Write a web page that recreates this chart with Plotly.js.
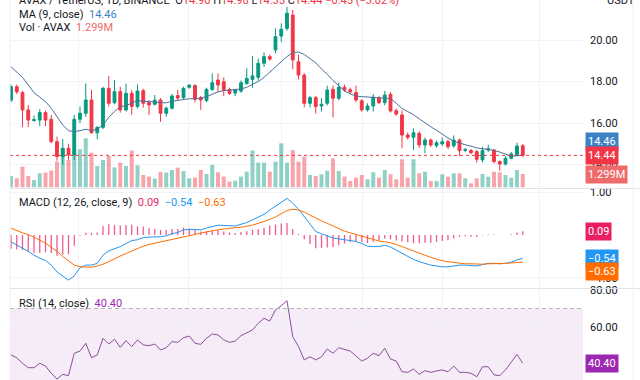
<!DOCTYPE html>
<html><head><meta charset="utf-8">
<script src="https://cdn.plot.ly/plotly-3.0.1.min.js"></script>
<style>html,body{margin:0;padding:0;background:#fff}#chart{width:640px;height:380px}</style>
</head><body><div id="chart"></div>
<script>
const openP = [17.10,17.75,17.46,16.63,16.12,16.14,16.50,16.18,15.10,14.38,
14.78,14.46,16.18,16.47,17.11,15.53,15.79,17.67,16.98,17.51,
16.63,17.43,16.80,17.56,16.98,16.90,17.11,16.47,16.71,17.32,
17.22,17.72,17.80,17.22,17.08,17.62,18.07,17.99,17.62,17.44,
17.54,17.90,18.10,18.20,18.88,19.20,19.52,20.19,20.56,21.20,
18.95,18.31,16.95,17.22,16.82,16.95,17.62,17.19,17.72,17.60,
17.46,17.07,16.63,16.82,17.20,16.98,17.38,16.59,16.39,15.42,
15.31,15.50,14.94,15.18,14.91,14.99,15.10,14.90,15.18,14.68,
14.67,14.62,14.22,14.70,14.70,14.14,14.02,14.30,14.46,14.90];
const highP = [17.85,17.85,17.55,16.87,16.35,16.67,16.60,16.39,15.34,15.23,
15.00,16.39,16.79,17.91,17.60,15.85,17.75,18.27,18.07,17.75,
17.90,17.60,17.86,17.65,17.10,17.35,17.20,16.80,17.40,17.60,
17.75,17.88,17.88,17.30,17.70,18.39,18.39,18.20,17.70,17.65,
18.05,18.64,19.23,19.10,19.40,19.30,20.56,20.80,21.60,21.45,
19.30,18.40,17.30,17.30,17.20,17.80,17.80,17.95,17.85,17.70,
17.80,17.15,16.95,17.40,17.30,17.55,17.50,16.70,16.60,15.55,
15.74,15.60,15.30,15.25,15.15,15.30,15.20,15.40,15.25,14.80,
14.75,14.70,14.85,14.95,14.75,14.20,14.40,14.60,15.05,14.98];
const lowP = [17.00,17.40,15.80,15.80,16.05,15.85,15.85,15.05,14.18,13.98,
14.20,14.22,16.00,16.30,15.50,15.21,15.70,16.80,16.90,16.50,
16.55,16.40,16.70,16.74,16.39,16.85,16.06,16.30,16.65,17.10,
17.15,17.65,17.00,16.63,17.00,17.55,17.50,17.30,17.35,17.30,
17.45,17.85,17.70,18.05,18.70,19.00,19.36,19.90,20.45,18.59,
18.10,16.76,16.75,16.45,16.55,16.85,16.27,17.10,17.50,17.40,
17.00,16.55,16.55,16.55,16.90,16.85,16.50,16.35,14.78,15.20,
14.70,14.80,14.54,14.85,14.80,14.90,14.75,14.80,14.41,14.60,
14.50,14.10,14.10,14.60,14.05,13.70,13.95,14.25,14.40,14.35];
const closeP = [17.75,17.50,16.63,16.14,16.16,16.50,16.14,15.10,14.38,14.78,
14.46,16.18,16.47,17.11,15.53,15.79,17.67,16.95,17.51,16.63,
17.43,16.80,17.54,16.95,16.87,17.10,16.47,16.71,17.30,17.20,
17.67,17.82,17.14,17.11,17.62,17.94,17.83,17.59,17.43,17.60,
17.94,18.15,18.27,18.88,19.20,19.08,20.16,20.52,21.29,19.04,
18.31,16.95,17.22,16.79,16.90,17.59,17.19,17.72,17.59,17.50,
17.11,16.63,16.82,17.24,16.98,17.35,16.58,16.43,15.42,15.31,
15.53,14.94,15.18,14.94,15.05,15.10,14.86,15.18,14.67,14.72,
14.57,14.25,14.67,14.76,14.14,14.02,14.30,14.51,14.89,14.44];
const volumeM = [1.10,0.88,2.02,1.10,0.71,1.37,1.44,1.63,2.51,3.81,
2.67,3.64,3.71,4.79,3.39,2.08,2.67,3.06,1.95,2.41,
2.08,3.59,2.15,1.20,1.05,0.85,1.49,1.44,1.69,1.92,
1.59,0.88,0.95,1.69,1.30,2.18,1.47,1.05,0.56,0.65,
1.05,1.53,3.59,2.41,2.41,1.53,2.51,4.30,2.41,3.64,
2.51,3.00,1.20,1.10,1.27,1.62,2.83,1.59,1.04,0.62,
0.94,1.20,0.78,1.47,0.94,1.69,1.27,0.78,2.74,0.94,
2.74,1.37,1.52,0.62,0.62,1.27,1.04,1.37,1.37,0.88,
0.39,0.88,1.30,1.04,1.52,1.47,1.20,0.94,1.69,1.299];
const ma9 = [18.71,18.47,18.20,17.83,17.46,17.24,17.03,16.71,16.30,15.90,
15.63,15.58,15.63,15.70,15.63,15.70,15.90,16.27,16.55,16.79,
16.84,16.95,17.08,17.05,17.03,17.00,16.97,16.97,17.05,17.10,
17.15,17.17,17.17,17.20,17.27,17.40,17.50,17.56,17.58,17.60,
17.64,17.72,17.85,18.00,18.20,18.45,18.70,18.95,19.20,19.40,
19.42,19.30,19.12,18.90,18.60,18.35,18.05,17.80,17.55,17.40,
17.30,17.27,17.25,17.24,17.24,17.22,17.18,16.95,16.70,16.55,
16.40,16.20,16.00,15.82,15.65,15.45,15.28,15.12,15.02,14.95,
14.88,14.80,14.76,14.72,14.68,14.60,14.50,14.40,14.42,14.46];
const macdLine = [-0.16,-0.23,-0.30,-0.38,-0.47,-0.54,-0.59,-0.70,-0.86,-0.96,
-1.05,-0.95,-0.76,-0.70,-0.70,-0.66,-0.47,-0.37,-0.32,-0.27,
-0.20,-0.13,-0.11,-0.06,-0.05,-0.05,-0.04,-0.02,0.03,0.06,
0.12,0.13,0.12,0.12,0.16,0.20,0.23,0.22,0.21,0.21,
0.25,0.29,0.35,0.41,0.48,0.58,0.66,0.76,0.85,0.74,
0.60,0.43,0.25,0.08,0.03,-0.02,-0.07,-0.09,-0.11,-0.12,
-0.15,-0.20,-0.26,-0.27,-0.27,-0.24,-0.28,-0.35,-0.42,-0.49,
-0.57,-0.62,-0.66,-0.70,-0.72,-0.74,-0.74,-0.72,-0.70,-0.70,
-0.71,-0.72,-0.69,-0.66,-0.66,-0.67,-0.66,-0.63,-0.58,-0.54];
const signalLine = [0.16,0.10,0.05,0.01,-0.05,-0.12,-0.19,-0.28,-0.38,-0.50,
-0.60,-0.70,-0.74,-0.75,-0.75,-0.72,-0.68,-0.62,-0.55,-0.49,
-0.43,-0.37,-0.31,-0.26,-0.22,-0.19,-0.16,-0.14,-0.11,-0.08,
-0.05,-0.02,0.01,0.04,0.07,0.10,0.12,0.14,0.15,0.17,
0.18,0.20,0.23,0.27,0.31,0.36,0.42,0.49,0.57,0.60,
0.58,0.53,0.46,0.39,0.33,0.27,0.21,0.15,0.09,0.05,
0.01,-0.03,-0.07,-0.11,-0.14,-0.16,-0.18,-0.22,-0.27,-0.32,
-0.38,-0.43,-0.48,-0.52,-0.56,-0.60,-0.62,-0.64,-0.66,-0.67,
-0.67,-0.68,-0.68,-0.67,-0.67,-0.67,-0.66,-0.65,-0.64,-0.63];
const macdHist = [-0.32,-0.33,-0.35,-0.39,-0.42,-0.42,-0.40,-0.42,-0.48,-0.46,
-0.45,-0.25,-0.02,0.05,0.05,0.06,0.21,0.25,0.23,0.22,
0.23,0.24,0.20,0.20,0.17,0.14,0.12,0.12,0.14,0.14,
0.17,0.15,0.11,0.08,0.09,0.10,0.11,0.08,0.06,0.04,
0.07,0.09,0.12,0.14,0.17,0.22,0.24,0.27,0.28,0.14,
0.02,-0.10,-0.21,-0.31,-0.30,-0.29,-0.28,-0.24,-0.20,-0.17,
-0.16,-0.17,-0.19,-0.16,-0.13,-0.08,-0.10,-0.13,-0.15,-0.17,
-0.19,-0.19,-0.18,-0.18,-0.16,-0.14,-0.12,-0.08,-0.04,-0.03,
-0.04,-0.04,-0.01,0.01,0.01,0.00,0.00,0.02,0.06,0.09];
const rsi14 = [44.9,43.4,40.4,38.0,38.0,40.4,38.9,35.0,31.9,34.4,
33.7,45.8,47.0,51.2,43.4,44.9,53.9,50.8,53.4,49.0,
52.6,49.4,53.0,50.3,49.9,50.8,47.6,48.8,52.1,51.7,
54.2,55.1,51.2,50.6,53.9,56.2,55.7,53.0,51.7,52.4,
55.3,56.9,58.4,62.0,64.7,63.2,69.2,71.5,74.2,54.8,
49.4,42.2,43.9,42.2,43.9,48.1,45.8,48.8,48.1,47.0,
44.3,41.6,43.1,45.8,44.5,48.5,42.7,41.6,35.8,35.5,
37.3,34.4,36.4,35.5,36.2,36.8,35.8,38.9,35.5,35.5,
35.0,33.1,38.5,38.5,34.1,33.7,36.8,40.7,45.2,40.4];
const gridTicks = [-0.2, 11.8, 30.8, 47.1, 61.2, 75.1, 92];
const priceTicks = [14, 16, 18, 20];
const macdTicks = [-1, 1];
const rsiTicks = [60, 80];
const symbolText = 'AVAX / TetherUS, 1D, BINANCE';
const quoteText = 'USDT';

const N = closeP.length;
const xs = Array.from({length: N}, (_, i) => i);
const last = N - 1;
const GREEN = '#089981', RED = '#f23645';
const MA_C = '#3b82c4', VOL_C = '#ef6b6b', HIST_C = '#e91e63', MACD_C = '#2196f3', SIG_C = '#ff6d00', RSI_C = '#9c27b0';
const volColors = xs.map(i => closeP[i] >= openP[i] ? 'rgba(8,153,129,0.45)' : 'rgba(242,54,69,0.45)');
const fmt = v => (v < 0 ? '\u2212' : '') + Math.abs(v).toFixed(2);

const traces = [
  {type:'bar', x:xs, y:volumeM, xaxis:'x', yaxis:'y', width:0.7, marker:{color:volColors, line:{width:0}}},
  {type:'candlestick', x:xs, open:openP, high:highP, low:lowP, close:closeP, xaxis:'x', yaxis:'y2', whiskerwidth:0,
   increasing:{line:{color:GREEN, width:1}, fillcolor:GREEN}, decreasing:{line:{color:RED, width:1}, fillcolor:RED}},
  {type:'scatter', mode:'lines', x:xs, y:ma9, xaxis:'x', yaxis:'y2', line:{color:'#4a7099', width:1}},
  {type:'bar', x:xs, y:macdHist, xaxis:'x', yaxis:'y3', width:0.22, marker:{color:HIST_C, opacity:0.75, line:{width:0}}},
  {type:'scatter', mode:'lines', x:xs, y:macdLine, xaxis:'x', yaxis:'y3', line:{color:MACD_C, width:1}},
  {type:'scatter', mode:'lines', x:xs, y:signalLine, xaxis:'x', yaxis:'y3', line:{color:SIG_C, width:1}},
  {type:'scatter', mode:'lines', x:xs, y:rsi14, xaxis:'x', yaxis:'y4', line:{color:'#8a4f9a', width:1}}
];

const PX = p => 1 - p / 380;
const axisCommon = {side:'right', anchor:'x', ticks:'', showgrid:true, gridcolor:'#f0f3fa', zeroline:false, fixedrange:true,
  showline:false, ticklabelstandoff:6, tickfont:{size:11, color:'#131722'}};
const badge = (text, yref, y, color, yshift) => ({xref:'paper', x:1, xanchor:'left', xshift:2, yref:yref, y:y, yanchor:'middle', yshift:yshift||0,
  text:text, showarrow:false, bgcolor:color, borderpad:2, font:{color:'#ffffff', size:11}});
const legend = (text, py) => ({xref:'paper', x:7/573, xanchor:'left', yref:'paper', y:PX(py), yanchor:'middle', text:text, showarrow:false, font:{size:11, color:'#131722'}});
const chg = closeP[last] - closeP[last-1];
const pct = chg / closeP[last-1] * 100;
const redSpan = t => '<span style="color:' + RED + '">' + t + '</span>';
const titleText = symbolText + '\u00a0\u00a0O' + redSpan(openP[last].toFixed(2)) + ' H' + redSpan(highP[last].toFixed(2)) + ' L' + redSpan(lowP[last].toFixed(2)) + ' C' + redSpan(closeP[last].toFixed(2)) + ' ' + redSpan(fmt(chg) + ' (' + fmt(pct) + '%)');

const layout = {
  width:640, height:380, margin:{l:10, r:57, t:0, b:0}, paper_bgcolor:'#ffffff', plot_bgcolor:'#ffffff',
  showlegend:false, barmode:'overlay', boxgap:0.3,
  font:{family:'Roboto, sans-serif', size:11, color:'#131722'},
  xaxis:{range:[-0.174, 99.48], tickvals:gridTicks, showticklabels:false, ticks:'', showgrid:true, gridcolor:'#f0f3fa',
    zeroline:false, rangeslider:{visible:false}, fixedrange:true, anchor:'y4'},
  yaxis:{domain:[PX(188), 1], range:[-0.068, 18.30], visible:false, fixedrange:true},
  yaxis2:Object.assign({}, axisCommon, {overlaying:'y', range:[12.867, 21.928], tickvals:priceTicks, ticktext:priceTicks.map(v => v.toFixed(2))}),
  yaxis3:Object.assign({}, axisCommon, {domain:[PX(288), PX(189)], range:[-1.233, 1.07], tickvals:macdTicks, ticktext:macdTicks.map(fmt)}),
  yaxis4:Object.assign({}, axisCommon, {domain:[0, PX(289)], range:[31.35, 80.54], tickvals:rsiTicks, ticktext:rsiTicks.map(v => v.toFixed(2))}),
  shapes:[
    {type:'rect', xref:'paper', x0:0, x1:1, yref:'y4', y0:30, y1:70, fillcolor:'rgba(156,39,176,0.09)', line:{width:0}, layer:'below'},
    {type:'line', xref:'paper', x0:0, x1:1, yref:'y4', y0:70, y1:70, line:{color:'#b2b5be', width:1, dash:'4px,3px'}},
    {type:'line', xref:'paper', x0:0, x1:1, yref:'y2', y0:closeP[last], y1:closeP[last], line:{color:RED, width:1, dash:'dot'}},
    {type:'line', xref:'paper', x0:0, x1:630/573, yref:'paper', y0:PX(188.5), y1:PX(188.5), line:{color:'#e0e3eb', width:1}},
    {type:'line', xref:'paper', x0:0, x1:630/573, yref:'paper', y0:PX(288.5), y1:PX(288.5), line:{color:'#e0e3eb', width:1}},
    {type:'line', xref:'paper', x0:0, x1:0, yref:'paper', y0:0, y1:1, line:{color:'#eceff4', width:1}},
    {type:'line', xref:'paper', x0:623/573, x1:623/573, yref:'paper', y0:0, y1:1, line:{color:'#eceff4', width:1}}
  ],
  annotations:[
    legend(titleText, 0),
    legend('MA (9, close)\u00a0\u00a0<span style="color:' + MA_C + '">' + ma9[last].toFixed(2) + '</span>', 14),
    legend('Vol \u00b7 AVAX\u00a0\u00a0<span style="color:' + VOL_C + '">' + volumeM[last].toFixed(3) + 'M</span>', 27),
    legend('MACD (12, 26, close, 9)\u00a0\u00a0<span style="color:' + HIST_C + '">' + fmt(macdHist[last]) + '</span>\u00a0\u00a0<span style="color:' + MACD_C + '">' + fmt(macdLine[last]) + '</span>\u00a0\u00a0<span style="color:' + SIG_C + '">' + fmt(signalLine[last]) + '</span>', 202.7),
    legend('RSI (14, close)\u00a0\u00a0<span style="color:' + RSI_C + '">' + rsi14[last].toFixed(2) + '</span>', 303.3),
    {xref:'paper', x:595/573, xanchor:'left', yref:'paper', y:1, yanchor:'middle', text:quoteText, showarrow:false, font:{size:11, color:'#131722'}},
    badge(ma9[last].toFixed(2), 'y2', ma9[last], MA_C, 13),
    badge(closeP[last].toFixed(2), 'y2', closeP[last], RED, 0),
    badge(volumeM[last].toFixed(3) + 'M', 'y', volumeM[last], VOL_C, 0),
    badge(fmt(macdHist[last]), 'y3', macdHist[last], HIST_C, 0),
    badge(fmt(macdLine[last]), 'y3', macdLine[last], MACD_C, 0),
    badge(fmt(signalLine[last]), 'y3', signalLine[last], SIG_C, -9),
    badge(rsi14[last].toFixed(2), 'y4', rsi14[last], RSI_C, 0)
  ]
};
Plotly.newPlot('chart', traces, layout, {staticPlot:true, displayModeBar:false});
</script></body></html>
